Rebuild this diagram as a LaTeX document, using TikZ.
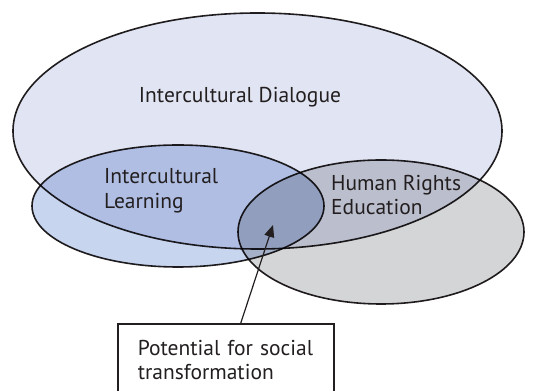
\documentclass[tikz,border=0pt]{standalone}
\usepackage{fontspec}
\setmainfont{PT Sans}
\usetikzlibrary{arrows.meta, shapes.geometric}
\definecolor{ink}{HTML}{231F20}
\definecolor{dialogue}{HTML}{E1E4F2}
\definecolor{learning}{HTML}{C7D5EF}
\definecolor{rights}{HTML}{D4D5D7}

\begin{document}
\begin{tikzpicture}[x=1pt, y=1pt, font=\fontsize{21.5}{24.5}\selectfont,
  region/.style={ellipse, draw=ink, line width=1.6pt, inner sep=0pt, blend mode=multiply},
  txt/.style={text=ink, inner sep=0pt, align=left}]
  \useasboundingbox (0,0) rectangle (542,391);
  \clip (0,0) rectangle (542,391);

  % the three sets, multiplied so the overlaps get darker
  \node[region, fill=dialogue, minimum width=489, minimum height=236] (dialogue) at (257.5,260) {};
  \node[region, fill=learning, minimum width=292, minimum height=122] (learning) at (178,185) {};
  \node[region, fill=rights, minimum width=286, minimum height=144] (rights) at (381,159) {};

  % set labels
  \node[txt] (dlgtext) at (240,294) {Intercultural Dialogue};
  \node[txt, anchor=west] (lrntext) at (104,200) {Intercultural\\Learning};
  \node[txt, anchor=west] (hretext) at (331,196) {Human Rights\\Education};

  % note box, runs off the bottom edge
  \node[draw=ink, line width=1.6pt, fill=white, txt, anchor=north west, inner xsep=20pt,
        text width=176pt, minimum height=72pt] (note) at (117,68)
        {Potential for social\\transformation};

  % pointer into the common part
  \coordinate (hit) at (273,166);
  \draw[ink, line width=1.2pt, -{Triangle[length=12pt, width=10pt]}] ([xshift=15pt]note.north) -- (hit);
\end{tikzpicture}
\end{document}
